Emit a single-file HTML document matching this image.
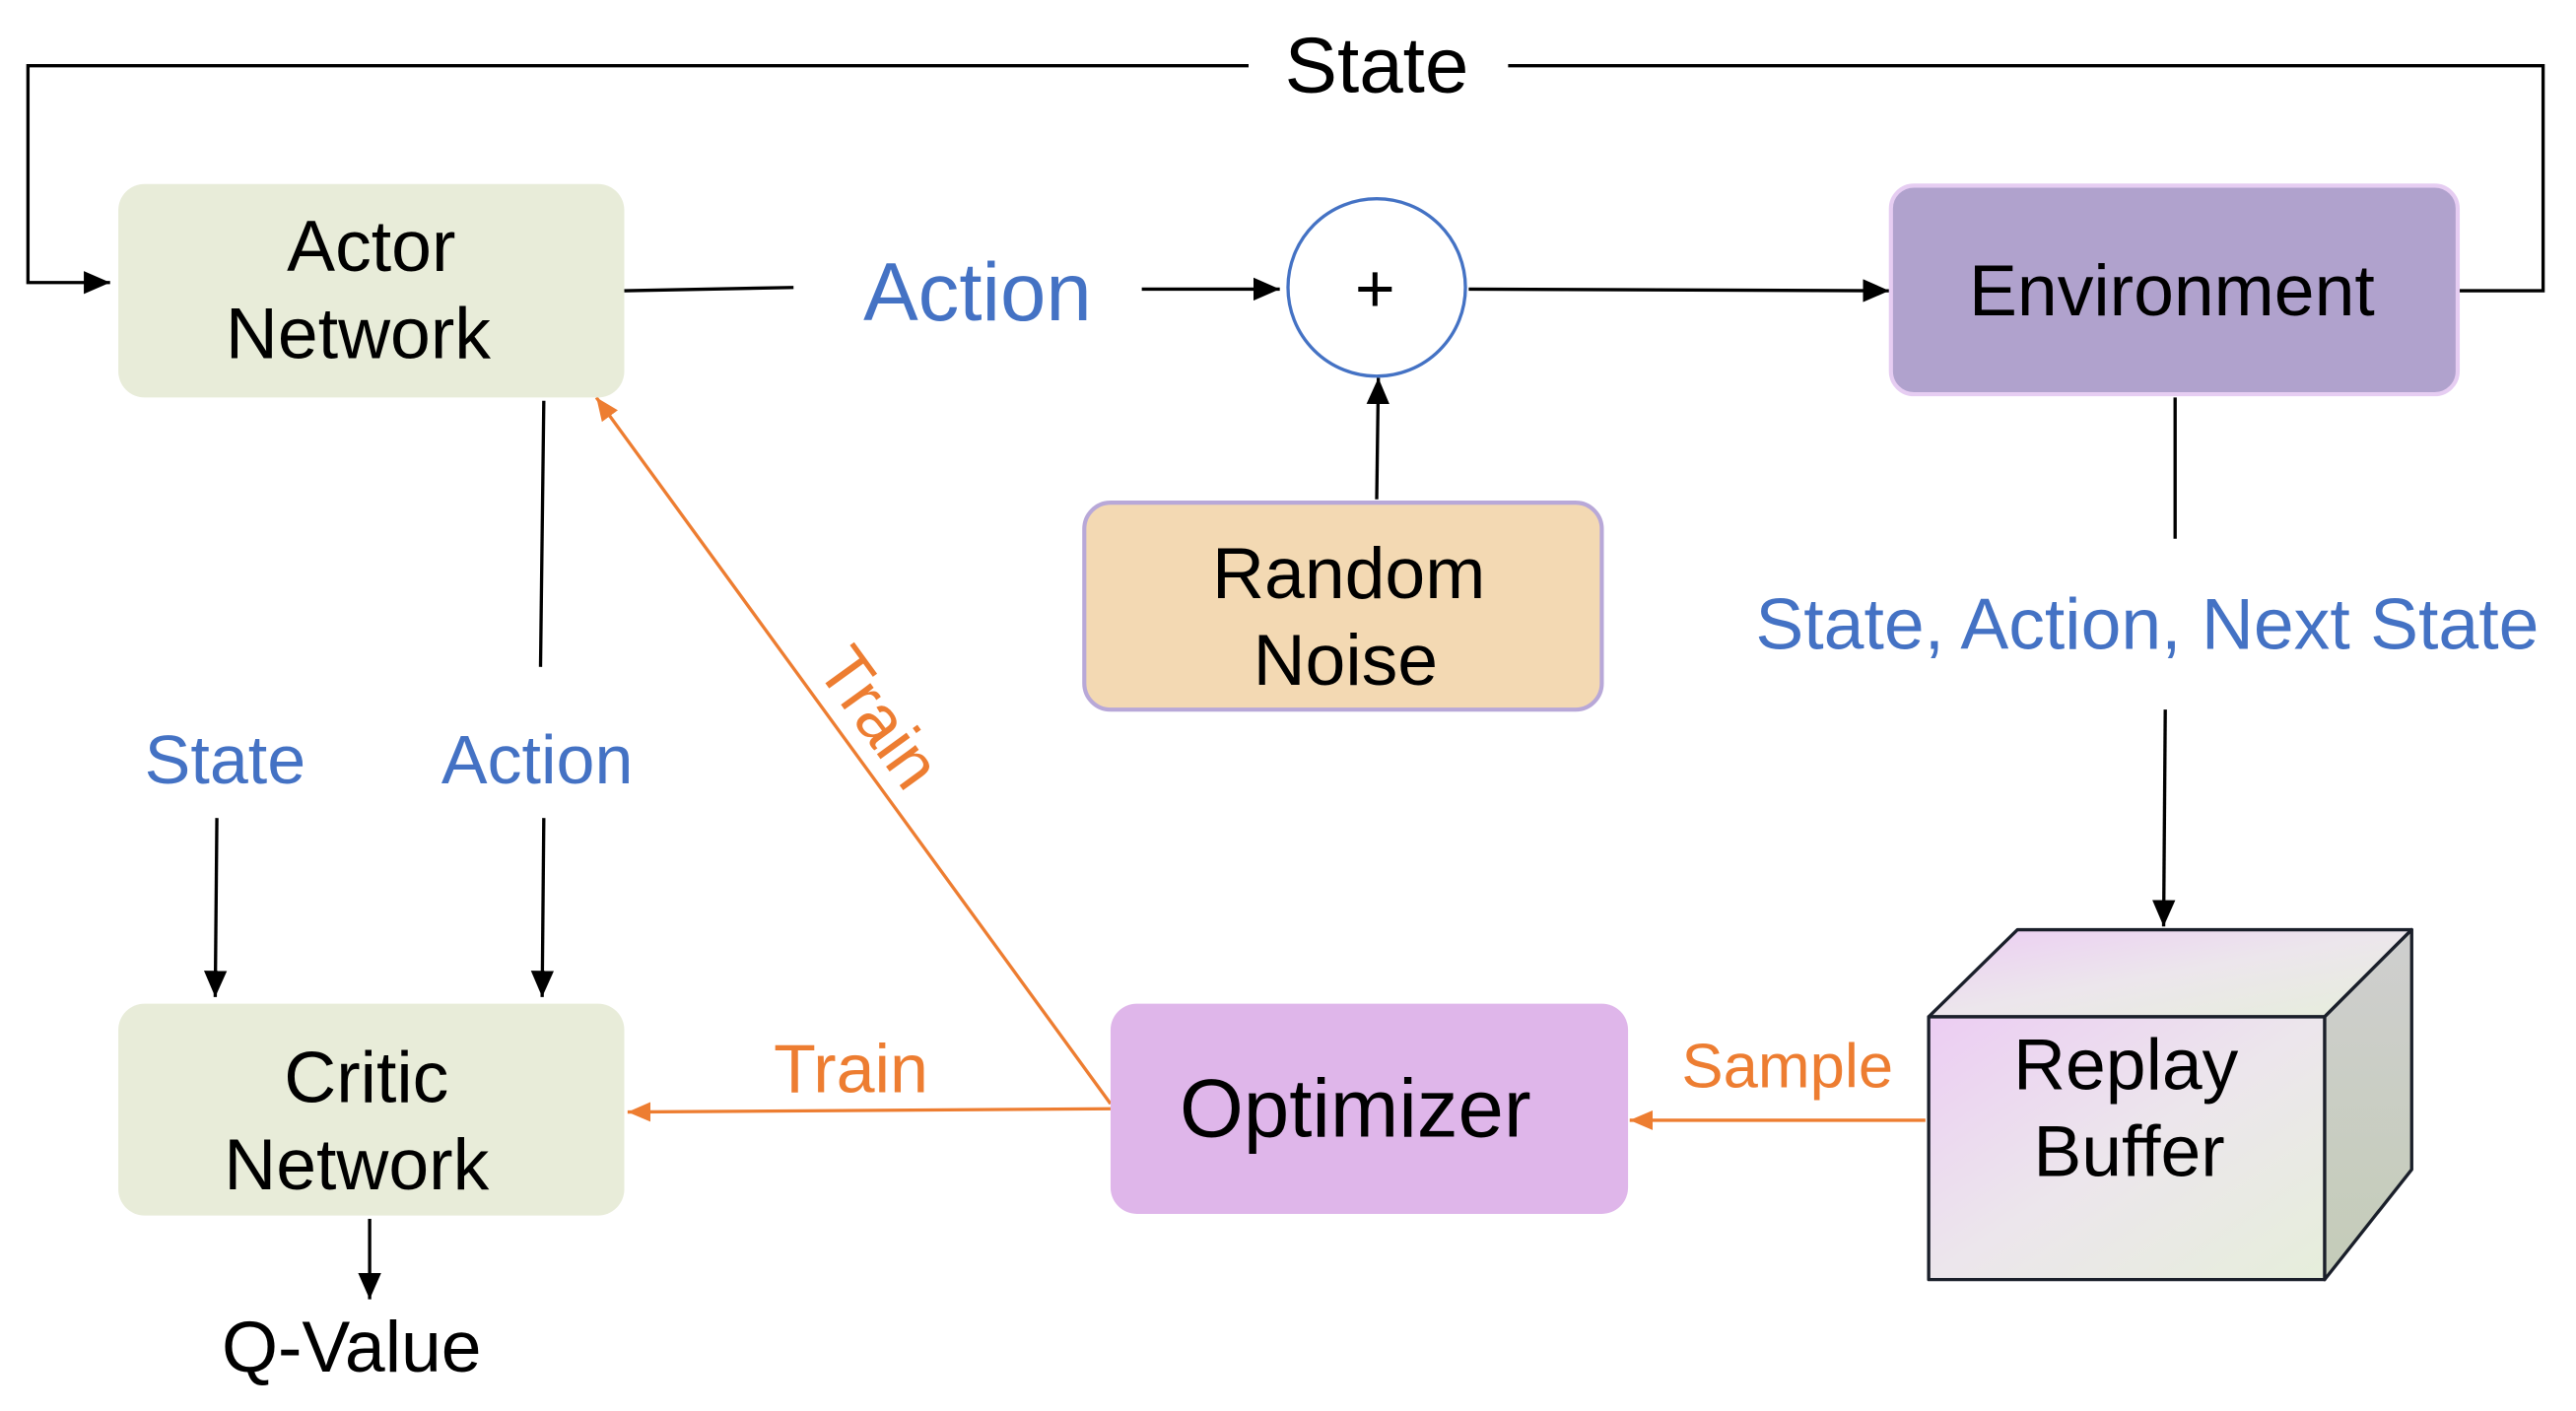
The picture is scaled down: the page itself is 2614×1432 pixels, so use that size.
<!DOCTYPE html>
<html><head><meta charset="utf-8"><style>html,body{margin:0;padding:0;background:#fff}svg{display:block}</style></head><body>
<svg width="2614" height="1432" viewBox="0 0 1568 859" xmlns="http://www.w3.org/2000/svg" font-family="Liberation Sans, Arial, sans-serif">
<defs>
<marker id="bk" viewBox="0 0 10 10" refX="10" refY="5" markerWidth="16" markerHeight="14" orient="auto" markerUnits="userSpaceOnUse" preserveAspectRatio="none"><path d="M0,0 L10,5 L0,10 z" fill="#000"/></marker>
<marker id="or" viewBox="0 0 10 10" refX="10" refY="5" markerWidth="14" markerHeight="12" orient="auto" markerUnits="userSpaceOnUse" preserveAspectRatio="none"><path d="M0,0 L10,5 L0,10 z" fill="#ed7d31"/></marker>
<linearGradient id="g" x1="0" y1="0" x2="1" y2="1"><stop offset="0" stop-color="#eccdf3"/><stop offset="0.5" stop-color="#ece6ec"/><stop offset="1" stop-color="#e6eedb"/></linearGradient>
<linearGradient id="gs" x1="0" y1="0" x2="0" y2="1"><stop offset="0" stop-color="#cfcfcf"/><stop offset="1" stop-color="#c4ccb8"/></linearGradient>
</defs>
<g fill="none" stroke="#000" stroke-width="2">
<polyline points="760,40 17,40 17,172 67,172" marker-end="url(#bk)"/>
<polyline points="918,40 1548,40 1548,177 1497,177"/>
<line x1="380" y1="177" x2="483" y2="175"/>
<line x1="695" y1="176" x2="779" y2="176" marker-end="url(#bk)"/>
<line x1="894" y1="176" x2="1150" y2="177" marker-end="url(#bk)"/>
<line x1="838" y1="304" x2="839" y2="230" marker-end="url(#bk)"/>
<line x1="1324" y1="242" x2="1324" y2="328"/>
<line x1="1318" y1="432" x2="1317" y2="564" marker-end="url(#bk)"/>
<line x1="331" y1="244" x2="329" y2="406"/>
<line x1="132" y1="498" x2="131" y2="607" marker-end="url(#bk)"/>
<line x1="331" y1="498" x2="330" y2="607" marker-end="url(#bk)"/>
<line x1="225" y1="742" x2="225" y2="791" marker-end="url(#bk)"/>
</g>
<g fill="none" stroke="#ed7d31" stroke-width="2">
<line x1="1172" y1="682" x2="992" y2="682" marker-end="url(#or)"/>
<line x1="676" y1="675" x2="382" y2="677" marker-end="url(#or)"/>
<line x1="676" y1="672" x2="363" y2="242" marker-end="url(#or)"/>
</g>
<rect x="72" y="112" width="308" height="130" rx="16" fill="#e8ecd9"/>
<rect x="72" y="611" width="308" height="129" rx="16" fill="#e8ecd9"/>
<rect x="1151" y="113" width="345" height="127" rx="14" fill="#b0a2cd" stroke="#e6cdf2" stroke-width="2.5"/>
<rect x="660" y="306" width="315" height="126" rx="16" fill="#f3d9b3" stroke="#b8a8d8" stroke-width="2.5"/>
<rect x="676" y="611" width="315" height="128" rx="16" fill="#dfb6ea"/>
<circle cx="838" cy="175" r="54" fill="#fff" stroke="#4472c4" stroke-width="2"/>
<g stroke="#1a1f2a" stroke-width="2" stroke-linejoin="round">
<polygon points="1174,619 1228,566 1468,566 1415,619" fill="url(#g)"/>
<polygon points="1415,619 1468,566 1468,712 1415,779" fill="url(#gs)"/>
<rect x="1174" y="619" width="241" height="160" fill="url(#g)"/>
</g>
<g text-anchor="middle" fill="#000" font-size="44">
<text x="838" y="56" font-size="48">State</text>
<text x="226" y="165">Actor</text>
<text x="218" y="218">Network</text>
<text x="223" y="671">Critic</text>
<text x="217" y="724">Network</text>
<text x="1322" y="192">Environment</text>
<text x="821" y="364">Random</text>
<text x="819" y="417">Noise</text>
<text x="825" y="692" font-size="50">Optimizer</text>
<text x="1294" y="663">Replay</text>
<text x="1296" y="716">Buffer</text>
<text x="214" y="835">Q-Value</text>
<text x="837" y="190" font-size="42">+</text>
</g>
<g text-anchor="middle" fill="#4472c4" font-size="42">
<text x="595" y="195" font-size="50">Action</text>
<text x="1307" y="395" font-size="44">State, Action, Next State</text>
<text x="137" y="477">State</text>
<text x="327" y="477">Action</text>
</g>
<g text-anchor="middle" fill="#ed7d31">
<text x="1088" y="662" font-size="38">Sample</text>
<text x="518" y="665" font-size="42">Train</text>
<text x="535" y="451" font-size="42" transform="rotate(54 535 437)">Train</text>
</g>
</svg>
</body></html>
